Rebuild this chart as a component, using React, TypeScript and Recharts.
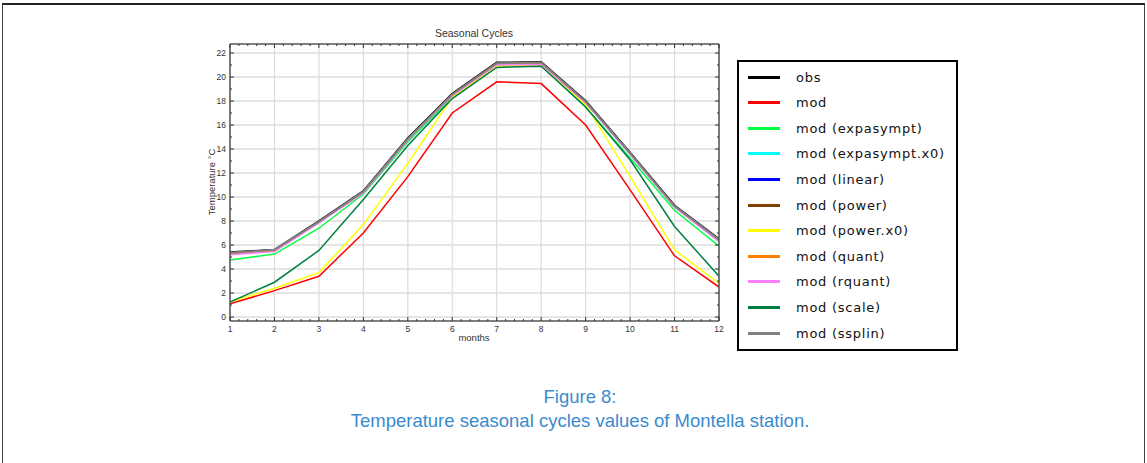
import React from 'react';
import { LineChart, Line, XAxis, YAxis, ReferenceLine } from 'recharts';

// Months (x) and tick values
const months = [1, 2, 3, 4, 5, 6, 7, 8, 9, 10, 11, 12];
const yMajorTicks = [0, 2, 4, 6, 8, 10, 12, 14, 16, 18, 20, 22];

// Series values (temperature, °C)
const obs = [5.4, 5.6, 8.0, 10.5, 14.9, 18.6, 21.2, 21.25, 18.0, 13.7, 9.3, 6.5];
const mod = [1.1, 2.2, 3.4, 7.0, 11.7, 17.0, 19.6, 19.45, 16.0, 10.6, 5.1, 2.5];
const modExpasympt = [4.75, 5.25, 7.4, 10.25, 14.6, 18.3, 20.9, 21.0, 17.5, 13.25, 8.9, 5.9];
const modExpasymptX0 = [5.3, 5.5, 7.9, 10.4, 14.8, 18.5, 21.1, 21.1, 17.9, 13.6, 9.2, 6.3];
const modLinear = [5.3, 5.5, 7.9, 10.4, 14.8, 18.5, 21.1, 21.15, 17.9, 13.6, 9.2, 6.4];
const modPower = [5.35, 5.55, 7.95, 10.45, 14.85, 18.55, 21.15, 21.2, 17.95, 13.65, 9.25, 6.45];
const modPowerX0 = [1.25, 2.4, 3.7, 7.7, 12.8, 18.3, 20.9, 21.0, 17.7, 11.7, 5.6, 2.8];
const modQuant = [5.3, 5.5, 7.9, 10.4, 14.8, 18.5, 21.1, 21.1, 17.9, 13.6, 9.2, 6.4];
const modRquant = [5.2, 5.45, 7.85, 10.35, 14.75, 18.45, 21.0, 21.05, 17.85, 13.55, 9.15, 6.3];
const modScale = [1.25, 2.9, 5.55, 9.8, 14.3, 18.2, 20.8, 20.9, 17.5, 13.1, 7.55, 3.4];
const modSsplin = [5.35, 5.6, 7.95, 10.45, 14.85, 18.55, 21.15, 21.2, 17.95, 13.65, 9.25, 6.45];

const seriesNames = [
  'obs',
  'mod',
  'mod (expasympt)',
  'mod (expasympt.x0)',
  'mod (linear)',
  'mod (power)',
  'mod (power.x0)',
  'mod (quant)',
  'mod (rquant)',
  'mod (scale)',
  'mod (ssplin)',
];
const seriesValues = [
  obs, mod, modExpasympt, modExpasymptX0, modLinear, modPower,
  modPowerX0, modQuant, modRquant, modScale, modSsplin,
];

const COLORS = [
  '#000000', // obs
  '#ff0000', // mod
  '#00ff40', // expasympt
  '#00ffff', // expasympt.x0
  '#0000ff', // linear
  '#804000', // power
  '#ffff00', // power.x0
  '#ff8000', // quant
  '#ff80ff', // rquant
  '#008040', // scale
  '#808080', // ssplin
];

// table for recharts
const rows = months.map((m, i) => {
  const row: Record<string, number> = { month: m };
  seriesNames.forEach((name, s) => {
    row[name] = seriesValues[s][i];
  });
  return row;
});

// minor ticks: 4 between each month, 1 between each even degree
const xTicks: number[] = [];
months.forEach((m) => {
  for (let k = 0; k < 5; k++) {
    if (m === 12 && k > 0) break;
    xTicks.push(Math.round((m + k * 0.2) * 10) / 10);
  }
});
const yTicks: number[] = [];
for (let v = 0; v <= 22; v++) yTicks.push(v);

const TICK_COLOR = '#333';
const FRAME = { stroke: '#555', strokeWidth: 1.5 };
const tickFont = { fontSize: 8.5, fill: '#333', fontFamily: 'Liberation Sans, Arial, sans-serif' };

const BottomTick = (props: any) => {
  const { x, y, payload } = props;
  const major = Number.isInteger(payload.value);
  return (
    <g>
      <line x1={x} y1={y} x2={x} y2={y - (major ? 4 : 2)} stroke={TICK_COLOR} />
      {major && (
        <text x={x} y={y + 11} textAnchor="middle" {...tickFont}>
          {payload.value}
        </text>
      )}
    </g>
  );
};

const TopTick = (props: any) => {
  const { x, y, payload } = props;
  const major = Number.isInteger(payload.value);
  return <line x1={x} y1={y} x2={x} y2={y + (major ? 4 : 2)} stroke={TICK_COLOR} />;
};

const LeftTick = (props: any) => {
  const { x, y, payload } = props;
  const major = payload.value % 2 === 0;
  return (
    <g>
      <line x1={x} y1={y} x2={x + (major ? 4 : 2)} y2={y} stroke={TICK_COLOR} />
      {major && (
        <text x={x - 4} y={y + 3} textAnchor="end" {...tickFont}>
          {payload.value}
        </text>
      )}
    </g>
  );
};

const RightTick = (props: any) => {
  const { x, y, payload } = props;
  const major = payload.value % 2 === 0;
  return <line x1={x} y1={y} x2={x - (major ? 4 : 2)} y2={y} stroke={TICK_COLOR} />;
};

const Legend = () => (
  <div
    style={{
      position: 'absolute',
      left: 737,
      top: 60,
      width: 217,
      height: 287,
      border: '2px solid #000',
      background: '#fff',
      boxSizing: 'content-box',
    }}
  >
    {seriesNames.map((name, i) => (
      <div
        key={name}
        style={{
          position: 'absolute',
          left: 0,
          top: 5 + i * 25.6,
          height: 20,
          display: 'flex',
          alignItems: 'center',
        }}
      >
        <div style={{ marginLeft: 9, width: 32, height: 3, background: COLORS[i] }} />
        <span
          style={{
            marginLeft: 16,
            fontFamily: 'DejaVu Sans, sans-serif',
            fontSize: 13,
            letterSpacing: 0.75,
            color: '#111',
            whiteSpace: 'nowrap',
          }}
        >
          {name}
        </span>
      </div>
    ))}
  </div>
);

export default function App() {
  return (
    <div
      style={{
        position: 'absolute',
        left: 0,
        top: 0,
        width: 1147,
        height: 463,
        background: '#fff',
        overflow: 'hidden',
        fontFamily: 'Liberation Sans, Arial, sans-serif',
      }}
    >
      {/* page frame */}
      <div
        style={{
          position: 'absolute',
          left: 2,
          top: 3,
          width: 1141,
          height: 470,
          borderTop: '2px solid #222',
          borderLeft: '1px solid #444',
          borderRight: '1px solid #444',
        }}
      />

      <div
        style={{
          position: 'absolute',
          left: 474,
          top: 27,
          transform: 'translateX(-50%)',
          fontSize: 10.5,
          color: '#333',
          whiteSpace: 'nowrap',
        }}
      >
        Seasonal Cycles
      </div>

      <div
        style={{
          position: 'absolute',
          left: 211,
          top: 182,
          transform: 'translate(-50%, -50%) rotate(-90deg)',
          fontSize: 9.5,
          color: '#333',
          whiteSpace: 'nowrap',
        }}
      >
        Temperature °C
      </div>

      <div
        style={{
          position: 'absolute',
          left: 474,
          top: 332,
          transform: 'translateX(-50%)',
          fontSize: 9.5,
          color: '#333',
          whiteSpace: 'nowrap',
        }}
      >
        months
      </div>

      <div style={{ position: 'absolute', left: 0, top: 0 }}>
        <LineChart
          width={1147}
          height={463}
          data={rows}
          margin={{ top: 43, right: 427, bottom: 122, left: 200 }}
        >
          <XAxis
            xAxisId="x"
            type="number"
            dataKey="month"
            domain={[1, 12]}
            allowDataOverflow
            ticks={xTicks}
            interval={0}
            height={20}
            tickSize={0}
            tickMargin={0}
            tickLine={false}
            axisLine={FRAME}
            tick={<BottomTick />}
          />
          <XAxis
            xAxisId="xtop"
            orientation="top"
            type="number"
            dataKey="month"
            domain={[1, 12]}
            allowDataOverflow
            ticks={xTicks}
            interval={0}
            height={1}
            tickSize={0}
            tickMargin={0}
            tickLine={false}
            axisLine={FRAME}
            tick={<TopTick />}
          />
          <YAxis
            yAxisId="y"
            type="number"
            domain={[-0.33, 22.75]}
            allowDataOverflow
            ticks={yTicks}
            interval={0}
            width={30}
            tickSize={0}
            tickMargin={0}
            tickLine={false}
            axisLine={FRAME}
            tick={<LeftTick />}
          />
          <YAxis
            yAxisId="yright"
            orientation="right"
            type="number"
            domain={[-0.33, 22.75]}
            allowDataOverflow
            ticks={yTicks}
            interval={0}
            width={1}
            tickSize={0}
            tickMargin={0}
            tickLine={false}
            axisLine={FRAME}
            tick={<RightTick />}
          />

          {months.map((m) => (
            <ReferenceLine key={`gx${m}`} xAxisId="x" yAxisId="y" x={m} stroke="#dcdcdc" strokeWidth={1.2} />
          ))}
          {yMajorTicks.map((v) => (
            <ReferenceLine key={`gy${v}`} xAxisId="x" yAxisId="y" y={v} stroke="#dcdcdc" strokeWidth={1.6} />
          ))}

          {seriesNames.map((name, i) => (
            <Line
              key={name}
              xAxisId="x"
              yAxisId="y"
              type="linear"
              dataKey={name}
              stroke={COLORS[i]}
              strokeWidth={i === 0 || i === 10 ? 2 : 1.5}
              dot={false}
              isAnimationActive={false}
            />
          ))}
        </LineChart>
      </div>

      <Legend />

      <div
        style={{
          position: 'absolute',
          left: 0,
          width: 1160,
          top: 385,
          textAlign: 'center',
          fontSize: 18.5,
          lineHeight: '24px',
          color: '#3a8bcd',
        }}
      >
        Figure 8:
        <br />
        Temperature seasonal cycles values of Montella station.
      </div>
    </div>
  );
}
